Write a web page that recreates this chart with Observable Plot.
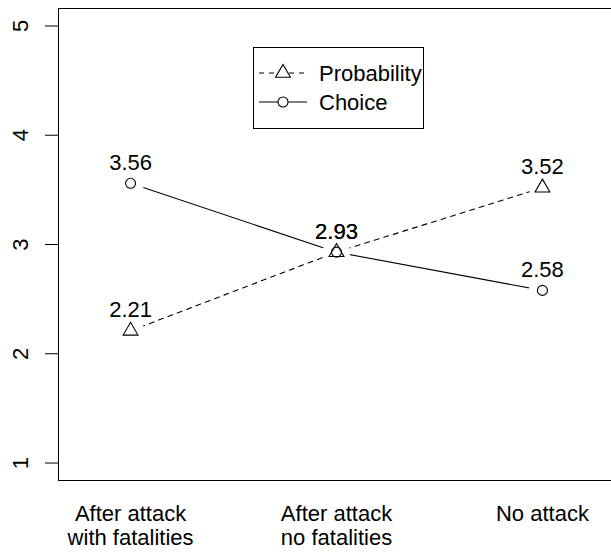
<!DOCTYPE html>
<html>
<head>
<meta charset="utf-8">
<script src="https://cdn.jsdelivr.net/npm/d3@7"></script>
<script src="https://cdn.jsdelivr.net/npm/@observablehq/plot@0.6"></script>
<style>
  html, body { margin: 0; padding: 0; background: white; }
  #chart { position: relative; width: 611px; height: 552px; }
</style>
</head>
<body>
<div id="chart"></div>
<script>
// ---- data ----
const categories = ["After attack\nwith fatalities", "After attack\nno fatalities", "No attack"];
const probability = [2.21, 2.93, 3.52];
const choice = [3.56, 2.93, 2.58];
const seriesNames = ["Probability", "Choice"];
const yTicks = [1, 2, 3, 4, 5];

// ---- build rows ----
const probRows = probability.map((v, i) => ({x: i + 1, value: v, series: seriesNames[0]}));
const choiceRows = choice.map((v, i) => ({x: i + 1, value: v, series: seriesNames[1]}));
const allRows = [...probRows, ...choiceRows];

const xDomain = [0.65, 3.35];
const yDomain = [0.84, 5.16];
const font = "'Liberation Sans', Arial, Helvetica, sans-serif";

const svg = Plot.plot({
  width: 611,
  height: 552,
  marginLeft: 58,
  marginRight: 0,
  marginTop: 8,
  marginBottom: 72,
  x: {domain: xDomain, range: [58, 614], axis: null},
  y: {domain: yDomain, range: [480, 8], axis: null},
  style: {fontFamily: font, fontSize: "22px", background: "white", color: "black"},
  marks: [
    // box (left, top, bottom; right edge falls outside the picture)
    Plot.ruleY(yDomain, {stroke: "black", strokeWidth: 1}),
    Plot.ruleX([xDomain[0]], {stroke: "black", strokeWidth: 1}),
    // y ticks
    Plot.axisY({ticks: yTicks, tickSize: 13, tickFormat: () => "", label: null, stroke: "black"}),
    Plot.text(yTicks, {y: d => d, text: d => String(d), frameAnchor: "left", dx: -38,
      rotate: -90, textAnchor: "middle", lineAnchor: "middle", fontSize: 22, fill: "black"}),
    // lines
    Plot.line(probRows, {x: "x", y: "value", stroke: "black", strokeWidth: 1.1, strokeDasharray: "5,5"}),
    Plot.line(choiceRows, {x: "x", y: "value", stroke: "black", strokeWidth: 1.1}),
    // gaps around points (type = "b")
    Plot.dot(allRows, {x: "x", y: "value", r: 13.5, fill: "white", stroke: "none"}),
    // markers
    Plot.dot(probRows, {x: "x", y: "value", symbol: "triangle", r: 5.5, stroke: "black", fill: "none", strokeWidth: 1.1}),
    Plot.dot(choiceRows, {x: "x", y: "value", symbol: "circle", r: 5, stroke: "black", fill: "none", strokeWidth: 1.1}),
    // value labels
    Plot.text(allRows, {x: "x", y: "value", text: d => d.value.toFixed(2), dy: -20.4,
      lineAnchor: "middle", fontSize: 22, fill: "black"}),
    // category labels
    Plot.text(categories, {x: (d, i) => i + 1, text: d => d, frameAnchor: "bottom",
      lineAnchor: "top", dy: 23.4, lineHeight: 1.09, fontSize: 22, fill: "black"})
  ]
});

// ---- legend (inside plot area) ----
const g = d3.select(svg).append("g").attr("font-family", font).attr("font-size", 22)
  .attr("text-anchor", "start");
g.append("rect").attr("x", 253.5).attr("y", 47.5).attr("width", 170).attr("height", 81)
  .attr("fill", "white").attr("stroke", "black");
const legendItems = [
  {name: seriesNames[0], dash: "5,5", sym: d3.symbolTriangle, r: 5.5, cy: 73},
  {name: seriesNames[1], dash: null, sym: d3.symbolCircle, r: 5, cy: 102}
];
for (const it of legendItems) {
  g.append("line").attr("x1", 259).attr("x2", 307).attr("y1", it.cy).attr("y2", it.cy)
    .attr("stroke", "black").attr("stroke-width", 1.1).attr("stroke-dasharray", it.dash);
  g.append("path").attr("d", d3.symbol(it.sym, Math.PI * it.r * it.r)())
    .attr("transform", `translate(283,${it.cy})`)
    .attr("fill", "white").attr("stroke", "black").attr("stroke-width", 1.1);
  g.append("text").attr("x", 319).attr("y", it.cy).attr("dy", "0.35em")
    .attr("text-anchor", "start").attr("fill", "black").text(it.name);
}

document.getElementById("chart").appendChild(svg);
</script>
</body>
</html>
